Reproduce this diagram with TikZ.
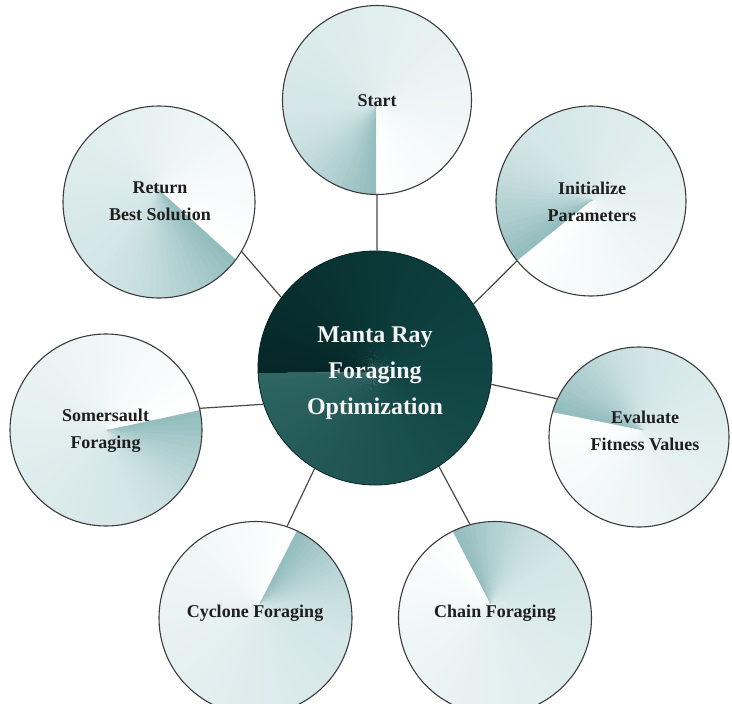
\documentclass[tikz,border=0pt]{standalone}
\usepackage{fontspec}
\setmainfont{Liberation Serif}
\definecolor{owhite}{HTML}{FFFFFF}
\definecolor{opale}{HTML}{D4E6E7}
\definecolor{odark}{HTML}{8FBABB}
\definecolor{clight}{HTML}{2F6563}
\definecolor{cmid}{HTML}{0F4443}
\definecolor{cdark}{HTML}{052626}
\definecolor{edgec}{HTML}{3C3C3C}
\definecolor{linkc}{HTML}{4A4A4A}
\definecolor{txtc}{HTML}{1E1E1E}
\definecolor{coretxt}{HTML}{F4F4F4}
% #1 circle centre, #2 radius, #3 apex, #4 cut angle, #5 palette (1 outer, 2 core)
\newcommand\mysweep[5]{%
  \begin{scope}
    \clip (#1) circle[radius=#2];
    \foreach \i in {0,...,89}{%
      \pgfmathsetmacro\swu{\i/90}%
      \pgfmathsetmacro\swa{#4+\i*4}%
      \pgfmathsetmacro\swb{#4+min(\i*4+5,360)}%
      \ifnum#5=1\relax
        \ifdim\swu pt<0.75pt
          \pgfmathsetmacro\swp{100*(\swu/0.75+0.0001)^0.9}%
          \colorlet{wedgec}{opale!\swp!owhite}%
        \else
          \pgfmathsetmacro\swp{100*((\swu-0.75)/0.25+0.0001)^1.5}%
          \colorlet{wedgec}{odark!\swp!opale}%
        \fi
      \else
        \ifdim\swu pt<0.5pt
          \pgfmathsetmacro\swp{100*(\swu/0.5+0.0001)^0.8}%
          \colorlet{wedgec}{cmid!\swp!clight}%
        \else
          \pgfmathsetmacro\swp{100*((\swu-0.5)/0.5+0.0001)^1.2}%
          \colorlet{wedgec}{cdark!\swp!cmid}%
        \fi
      \fi
      \fill[wedgec] (#3) -- ++(\swa:300) arc[start angle=\swa, end angle=\swb, radius=300] -- cycle;
    }
  \end{scope}
}
\tikzset{
  bub/.style={circle, draw=edgec, line width=1.1pt, inner sep=0pt},
  core/.style={circle, draw=cdark, line width=0.8pt, minimum size=234pt, inner sep=0pt},
  lbl/.style={font=\fontsize{18}{27}\selectfont\bfseries, text=txtc, align=center, inner sep=0pt},
  corelbl/.style={font=\fontsize{24}{36}\selectfont\bfseries, text=coretxt, align=center, inner sep=0pt},
  link/.style={draw=linkc, line width=1.2pt},
}
\begin{document}
\begin{tikzpicture}[x=1pt,y=1pt]
\useasboundingbox (0,0) rectangle (732,-704);
\fill[white] (0,0) rectangle (732,-704);
% gradient fills
\mysweep{377,-100}{94.5}{376,-106}{270}{1}
\mysweep{591,-201}{95}{592,-200}{219}{1}
\mysweep{639,-437}{90}{642,-430}{168.7}{1}
\mysweep{495,-618}{96.5}{490,-603}{117.5}{1}
\mysweep{255.5,-618}{96.5}{260,-603}{63}{1}
\mysweep{106,-430}{96}{107,-430}{12.1}{1}
\mysweep{159,-202}{96}{157,-188}{-42.2}{1}
\mysweep{375,-368}{117}{373,-372}{180.5}{2}
% circles
\node[bub, minimum size=189pt] (st) at (377,-100) {};
\node[bub, minimum size=190pt] (in) at (591,-201) {};
\node[bub, minimum size=180pt] (ev) at (639,-437) {};
\node[bub, minimum size=193pt] (ch) at (495,-618) {};
\node[bub, minimum size=193pt] (cy) at (255.5,-618) {};
\node[bub, minimum size=192pt] (so) at (106,-430) {};
\node[bub, minimum size=192pt] (re) at (159,-202) {};
\node[core] (c) at (375,-368) {};
% connectors
\draw[link] (c.89) -- (st.270);
\draw[link] (c.33) -- (in.219);
\draw[link] (c.-8) -- (ev.155);
\draw[link] (c.-57) -- (ch.105);
\draw[link] (c.239) -- (cy.71);
\draw[link] (c.198) -- (so.13);
\draw[link] (c.143) -- (re.-31);
% labels
\node[lbl] (tst) at (377,-100.5) {Start};
\node[lbl] (tin) at (592,-201.5) {Initialize\\Parameters};
\node[lbl] (tev) at (645,-430.5) {Evaluate\\Fitness Values};
\node[lbl] (tch) at (495,-613) {Chain Foraging};
\node[lbl] (tcy) at (255,-613) {Cyclone Foraging};
\node[lbl] (tso) at (105.5,-431) {Somersault\\Foraging};
\node[lbl] (tre) at (160,-201) {Return\\Best Solution};
\node[corelbl] (tc) at (375,-373.5) {Manta Ray\\Foraging\\Optimization};
\end{tikzpicture}
\end{document}
